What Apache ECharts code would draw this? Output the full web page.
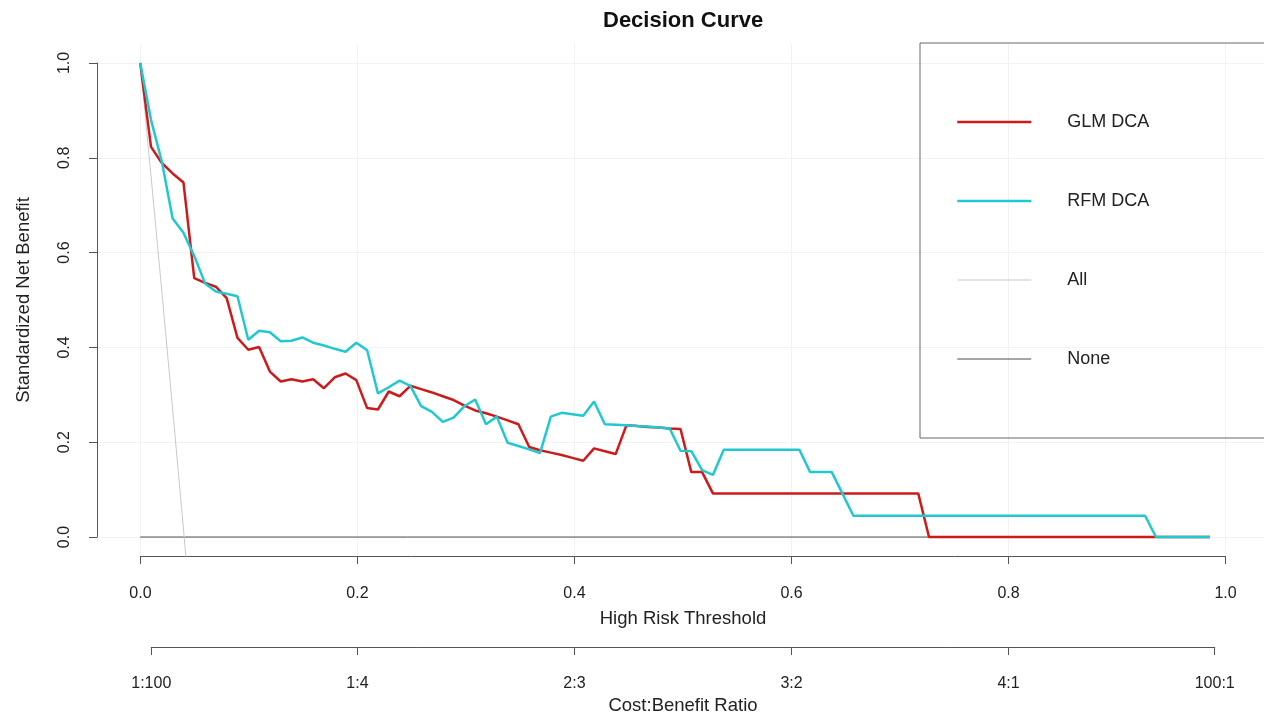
<!DOCTYPE html>
<html>
<head>
<meta charset="utf-8">
<script src="https://cdn.jsdelivr.net/npm/echarts@6/dist/echarts.min.js"></script>
<style>
html,body{margin:0;padding:0;background:#fff;}
#chart{width:1264px;height:716px;}
</style>
</head>
<body>
<div id="chart"></div>
<script>
// ---- data ----
var thresholds = [0,0.01,0.02,0.03,0.04,0.05,0.06,0.07,0.08,0.09,
0.10,0.11,0.12,0.13,0.14,0.15,0.16,0.17,0.18,0.19,
0.20,0.21,0.22,0.23,0.24,0.25,0.26,0.27,0.28,0.29,
0.30,0.31,0.32,0.33,0.34,0.35,0.36,0.37,0.38,0.39,
0.40,0.41,0.42,0.43,0.44,0.45,0.46,0.47,0.48,0.49,
0.50,0.51,0.52,0.53,0.54,0.55,0.56,0.57,0.58,0.59,
0.60,0.61,0.62,0.63,0.64,0.65,0.66,0.67,0.68,0.69,
0.70,0.71,0.72,0.73,0.74,0.75,0.76,0.77,0.78,0.79,
0.80,0.81,0.82,0.83,0.84,0.85,0.86,0.87,0.88,0.89,
0.90,0.91,0.92,0.93,0.94,0.95,0.96,0.97,0.98,0.99];

var glmDCA = [1.000,0.823,0.789,0.767,0.748,0.546,0.536,0.528,0.504,0.420,
0.395,0.401,0.349,0.328,0.333,0.328,0.333,0.314,0.337,0.345,
0.331,0.272,0.269,0.307,0.297,0.319,0.312,0.305,0.297,0.289,
0.277,0.267,0.261,0.254,0.246,0.238,0.190,0.183,0.178,0.173,
0.167,0.161,0.187,0.181,0.175,0.236,0.234,0.232,0.231,0.229,
0.228,0.137,0.137,0.092,0.092,0.092,0.092,0.092,0.092,0.092,
0.092,0.092,0.092,0.092,0.092,0.092,0.092,0.092,0.092,0.092,
0.092,0.092,0.092,0,0,0,0,0,0,0,
0,0,0,0,0,0,0,0,0,0,
0,0,0,0,0,0,0,0,0,0];

var rfmDCA = [1.000,0.880,0.792,0.672,0.642,0.593,0.535,0.518,0.513,0.508,
0.416,0.435,0.432,0.413,0.414,0.421,0.410,0.404,0.397,0.391,
0.410,0.394,0.303,0.316,0.330,0.319,0.276,0.264,0.243,0.252,
0.276,0.290,0.238,0.254,0.199,0.192,0.185,0.177,0.254,0.262,
0.259,0.256,0.286,0.238,0.237,0.236,0.234,0.233,0.231,0.229,
0.182,0.181,0.141,0.131,0.184,0.184,0.184,0.184,0.184,0.184,
0.184,0.184,0.137,0.137,0.137,0.091,0.045,0.045,0.045,0.045,
0.045,0.045,0.045,0.045,0.045,0.045,0.045,0.045,0.045,0.045,
0.045,0.045,0.045,0.045,0.045,0.045,0.045,0.045,0.045,0.045,
0.045,0.045,0.045,0.045,0,0,0,0,0,0];

var allThresholds = [0,0.01,0.02,0.03,0.04,0.05];
var allDCA = [1.000,0.762,0.518,0.270,0.017,-0.242];

var noneThresholds = [0,0.99];
var noneDCA = [0,0];

var cbTicks = [0.01,0.2,0.4,0.6,0.8,0.99];
var cbLabels = ['1:100','1:4','2:3','3:2','4:1','100:1'];

// ---- layout (pixels) ----
var FONT = '"Liberation Sans", Arial, Helvetica, sans-serif';
var AX = '#555';
var PL = 97, PT = 44, PW = 1172, PH = 512;     // plot region (data range -0.04 .. 1.04)
var UX = PW / 1.08, UY = PH / 1.08;           // pixels per unit
var X0 = PL + 0.04 * UX, Y1 = PT + 0.04 * UY;  // pixel of x=0, y=1

function pairs(xs, ys){ return xs.map(function(x,i){ return [x, ys[i]]; }); }

var chart = echarts.init(document.getElementById('chart'), null, {renderer:'canvas'});
chart.setOption({
  animation:false,
  backgroundColor:'#fff',
  textStyle:{fontFamily:FONT},
  title:{
    text:'Decision Curve', left:598, top:5,
    textStyle:{fontFamily:FONT, fontSize:22, fontWeight:'bold', color:'#111'}
  },
  legend:{
    data:['GLM DCA','RFM DCA','All','None'],
    orient:'vertical', left:920, top:43,
    padding:[69,200,69,36],
    itemGap:59, itemWidth:74, itemHeight:14,
    borderColor:'#666', borderWidth:1,
    itemStyle:{opacity:0},
    lineStyle:{width:'inherit'},
    textStyle:{fontFamily:FONT, fontSize:18, color:'#222', lineHeight:20, padding:[0,0,0,31]},
    selectedMode:false
  },
  grid:[
    {left:PL, top:PT, width:PW, height:PH},                      // 0: data
    {left:X0, top:PT, width:UX, height:PH},                      // 1: x axis 0..1
    {left:PL, top:Y1, width:PW, height:UY},                      // 2: y axis 0..1
    {left:X0 + cbTicks[0]*UX, top:600, width:(cbTicks[5]-cbTicks[0])*UX, height:47} // 3: cost axis
  ],
  xAxis:[
    {type:'value', gridIndex:0, min:-0.04, max:1.04, show:false},
    {type:'value', gridIndex:1, min:0, max:1, interval:0.2, position:'bottom',
     axisLine:{show:true, onZero:false, lineStyle:{color:AX, width:1}},
     axisTick:{show:true, length:8, lineStyle:{color:AX}},
     axisLabel:{show:true, margin:30, fontSize:16, color:'#222', fontFamily:FONT,
                formatter:function(v){ return v.toFixed(1); }},
     splitLine:{show:true, lineStyle:{color:'#f2f2f2', width:1}},
     name:'High Risk Threshold', nameLocation:'middle', nameGap:53,
     nameTextStyle:{fontSize:18.5, color:'#222', fontFamily:FONT}},
    {type:'value', gridIndex:2, min:0, max:1, show:false},
    {type:'value', gridIndex:3, min:cbTicks[0], max:cbTicks[5], position:'bottom',
     axisLine:{show:true, onZero:false, lineStyle:{color:AX, width:1}},
     axisTick:{show:true, customValues:cbTicks, length:8, lineStyle:{color:AX}},
     axisLabel:{show:true, customValues:cbTicks, margin:29, fontSize:16, color:'#222', fontFamily:FONT,
                showMinLabel:true, showMaxLabel:true,
                formatter:function(v){
                  for (var i=0;i<cbTicks.length;i++){ if (Math.abs(cbTicks[i]-v)<1e-6) return cbLabels[i]; }
                  return '';
                }},
     splitLine:{show:false},
     name:'Cost:Benefit Ratio', nameLocation:'middle', nameGap:49,
     nameTextStyle:{fontSize:18.5, color:'#222', fontFamily:FONT}}
  ],
  yAxis:[
    {type:'value', gridIndex:0, min:-0.04, max:1.04, show:false},
    {type:'value', gridIndex:1, min:0, max:1, show:false},
    {type:'value', gridIndex:2, min:0, max:1, interval:0.2, position:'left',
     axisLine:{show:true, onZero:false, lineStyle:{color:AX, width:1}},
     axisTick:{show:true, length:8, lineStyle:{color:AX}},
     axisLabel:{show:true, margin:24, rotate:90, fontSize:16, color:'#222', fontFamily:FONT,
                formatter:function(v){ return v.toFixed(1); }},
     splitLine:{show:true, lineStyle:{color:'#f2f2f2', width:1}},
     name:'Standardized Net Benefit', nameLocation:'middle', nameGap:64, nameRotate:90,
     nameTextStyle:{fontSize:18.5, color:'#222', fontFamily:FONT}},
    {type:'value', gridIndex:3, min:0, max:1, show:false}
  ],
  series:[
    {name:'None', type:'line', xAxisIndex:0, yAxisIndex:0, data:pairs(noneThresholds, noneDCA),
     symbol:'none', z:2,
     lineStyle:{color:'#4d4d4d', width:1}, itemStyle:{color:'#4d4d4d'}},
    {name:'All', type:'line', xAxisIndex:0, yAxisIndex:0, data:pairs(allThresholds, allDCA),
     symbol:'none', z:3,
     lineStyle:{color:'#c9c9c9', width:1}, itemStyle:{color:'#c9c9c9'}},
    {name:'GLM DCA', type:'line', xAxisIndex:0, yAxisIndex:0, data:pairs(thresholds, glmDCA),
     symbol:'none', z:4,
     lineStyle:{color:'#cc1b1b', width:2.5}, itemStyle:{color:'#cc1b1b'}},
    {name:'RFM DCA', type:'line', xAxisIndex:0, yAxisIndex:0, data:pairs(thresholds, rfmDCA),
     symbol:'none', z:5,
     lineStyle:{color:'#22c8d0', width:2.5}, itemStyle:{color:'#22c8d0'}}
  ]
});
</script>
</body>
</html>
